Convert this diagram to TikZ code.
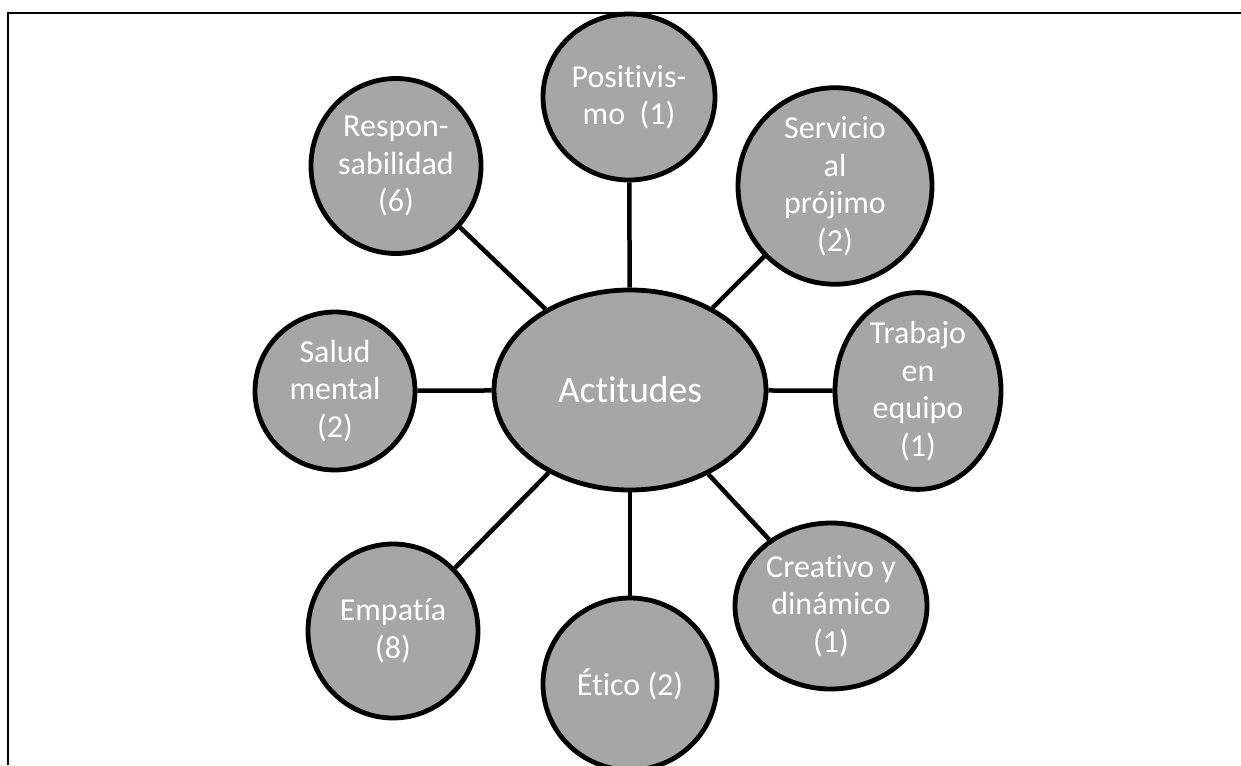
\documentclass[tikz,border=0pt]{standalone}
\usepackage{fontspec}
\setmainfont[Ligatures=NoCommon]{Carlito}
\usetikzlibrary{shapes.geometric}
\definecolor{bub}{HTML}{A6A6A6}
\tikzset{
  bubble/.style={ellipse, draw=black, line width=4.8pt, fill=bub, text=white, inner sep=0pt, align=center, font=\fontsize{32}{37.5}\selectfont},
  link/.style={draw=black, line width=4.5pt},
  frame/.style={draw=black, line width=2.5pt}
}
\begin{document}
\begin{tikzpicture}[x=1pt,y=-1pt]
\useasboundingbox (0,0) rectangle (1241,765);
\draw[frame] (8,765) -- (8,13) -- (1241,13);
\node[bubble, minimum width=272pt, minimum height=200pt, font=\fontsize{37.5}{44}\selectfont] (ctr) at (630,390) {Actitudes};
\node[bubble, minimum width=172pt, minimum height=166pt] (pos) at (629,97) {Positivis-\\mo~~(1)};
\node[bubble, minimum width=194pt, minimum height=178pt] (ser) at (835,186) {Servicio\\al\\prójimo\\(2)};
\node[bubble, minimum width=166pt, minimum height=174pt] (tra) at (918,391) {Trabajo\\en\\equipo\\(1)};
\node[bubble, minimum width=192pt, minimum height=166pt] (cre) at (831,606) {Creativo y\\dinámico\\(1)};
\node[bubble, minimum width=174pt, minimum height=172pt] (eti) at (630,684) {Ético (2)};
\node[bubble, minimum width=170pt, minimum height=174pt] (emp) at (393,631) {Empatía\\(8)};
\node[bubble, minimum width=160pt, minimum height=158pt] (sal) at (335,391) {Salud\\mental\\(2)};
\node[bubble, minimum width=170pt, minimum height=175pt] (res) at (396,166) {Respon-\\sabilidad\\(6)};
\foreach \n in {pos,ser,tra,cre,eti,emp,sal,res}
  \draw[link] (ctr) -- (\n);
\end{tikzpicture}
\end{document}
